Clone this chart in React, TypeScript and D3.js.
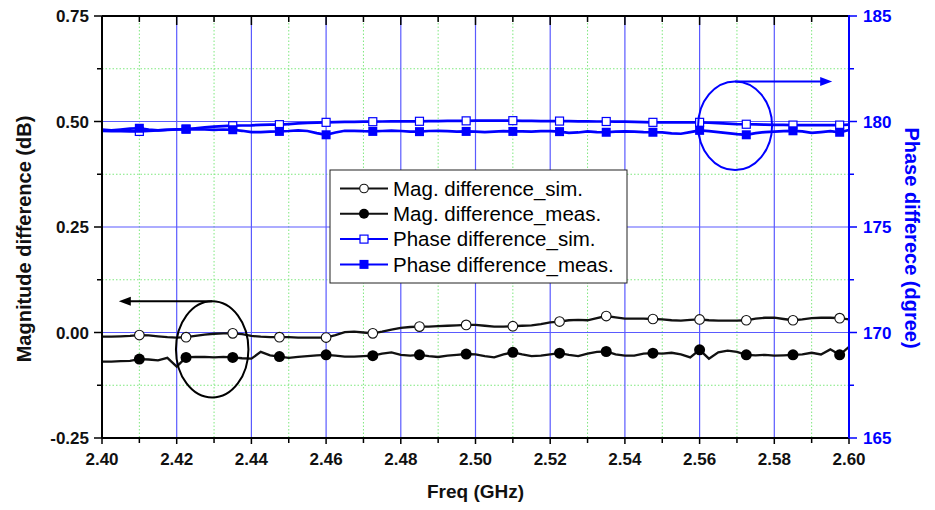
import React from 'react';
import * as d3 from 'd3';

// frequency grid: 2.40 .. 2.60 GHz, 2.5 MHz step
const freqStart = 2.4;
const freqStep = 0.0025;

const magSim = [
  -0.010, -0.010, -0.009, -0.008, -0.006, -0.007, -0.009, -0.011, -0.012, -0.011,
  -0.008, -0.005, -0.003, -0.002, -0.002, -0.004, -0.008, -0.010, -0.011, -0.011,
  -0.011, -0.012, -0.012, -0.012, -0.012, -0.006, 0.001, 0.002, 0.000, -0.002,
  0.002, 0.007, 0.011, 0.013, 0.014, 0.014, 0.015, 0.016, 0.017, 0.018,
  0.018, 0.016, 0.014, 0.014, 0.015, 0.016, 0.017, 0.020, 0.024, 0.026,
  0.029, 0.030, 0.029, 0.034, 0.039, 0.036, 0.033, 0.033, 0.033, 0.032,
  0.031, 0.029, 0.028, 0.030, 0.031, 0.029, 0.028, 0.028, 0.028, 0.029,
  0.033, 0.035, 0.035, 0.032, 0.029, 0.031, 0.034, 0.035, 0.035, 0.034,
  0.031,
];

const magMeas = [
  -0.069, -0.069, -0.068, -0.067, -0.063, -0.064, -0.066, -0.060, -0.081, -0.059,
  -0.058, -0.058, -0.059, -0.058, -0.059, -0.061, -0.062, -0.046, -0.054, -0.057,
  -0.060, -0.058, -0.056, -0.054, -0.053, -0.055, -0.057, -0.057, -0.056, -0.055,
  -0.050, -0.047, -0.053, -0.055, -0.053, -0.056, -0.058, -0.055, -0.053, -0.051,
  -0.052, -0.056, -0.059, -0.052, -0.047, -0.052, -0.056, -0.055, -0.052, -0.049,
  -0.053, -0.056, -0.050, -0.046, -0.045, -0.052, -0.055, -0.055, -0.050, -0.049,
  -0.050, -0.048, -0.052, -0.059, -0.041, -0.062, -0.047, -0.043, -0.046, -0.053,
  -0.054, -0.053, -0.055, -0.054, -0.053, -0.052, -0.048, -0.052, -0.040, -0.053,
  -0.034,
];

const phaseSim = [
  179.55, 179.54, 179.54, 179.53, 179.53, 179.56, 179.58, 179.61, 179.63, 179.64,
  179.68, 179.72, 179.76, 179.78, 179.80, 179.81, 179.82, 179.84, 179.85, 179.85,
  179.88, 179.91, 179.93, 179.95, 179.96, 179.97, 179.98, 179.98, 179.99, 179.99,
  180.00, 180.01, 180.01, 180.01, 180.01, 180.02, 180.02, 180.03, 180.03, 180.03,
  180.04, 180.04, 180.04, 180.04, 180.04, 180.03, 180.03, 180.02, 180.02, 180.02,
  180.02, 180.01, 180.01, 180.00, 180.00, 179.99, 179.99, 179.98, 179.97, 179.96,
  179.96, 179.96, 179.96, 179.96, 179.96, 179.94, 179.92, 179.90, 179.88, 179.87,
  179.86, 179.85, 179.84, 179.84, 179.83, 179.83, 179.83, 179.83, 179.83, 179.83,
  179.85,
];

const phaseMeas = [
  179.62, 179.58, 179.62, 179.66, 179.68, 179.62, 179.58, 179.60, 179.62, 179.64,
  179.63, 179.62, 179.60, 179.62, 179.61, 179.56, 179.50, 179.50, 179.52, 179.53,
  179.55, 179.58, 179.55, 179.45, 179.37, 179.48, 179.56, 179.56, 179.54, 179.53,
  179.55, 179.57, 179.55, 179.52, 179.52, 179.55, 179.56, 179.54, 179.52, 179.53,
  179.52, 179.50, 179.52, 179.54, 179.53, 179.53, 179.52, 179.54, 179.54, 179.52,
  179.46, 179.48, 179.53, 179.50, 179.49, 179.52, 179.53, 179.52, 179.50, 179.49,
  179.48, 179.44, 179.42, 179.50, 179.58, 179.54, 179.50, 179.45, 179.40, 179.37,
  179.45, 179.50, 179.52, 179.54, 179.56, 179.53, 179.46, 179.50, 179.54, 179.49,
  179.60,
];

const xTicks = [2.40, 2.42, 2.44, 2.46, 2.48, 2.50, 2.52, 2.54, 2.56, 2.58, 2.60];
const magTicks = [-0.25, 0, 0.25, 0.5, 0.75];
const phaseTicks = [165, 170, 175, 180, 185];

const legendLabels = [
  'Mag. difference_sim.',
  'Mag. difference_meas.',
  'Phase difference_sim.',
  'Phase difference_meas.',
];

const W = 935;
const H = 510;
const margin = { top: 16, right: 86, bottom: 72, left: 102 };
const BLUE = '#0000ff';
const GRID_BLUE = '#5a5aff';
const GRID_GREEN = '#7ee87e';
const FONT = 'Liberation Sans, Arial, sans-serif';

const App = () => {
  const x = d3.scaleLinear().domain([2.4, 2.6]).range([margin.left, W - margin.right]);
  const yMag = d3.scaleLinear().domain([-0.25, 0.75]).range([H - margin.bottom, margin.top]);
  const yPh = d3.scaleLinear().domain([165, 185]).range([H - margin.bottom, margin.top]);

  const freq = (i: number) => freqStart + freqStep * i;
  const [x0, x1] = x.range();
  const [yb, yt] = yMag.range();

  const magLine = d3.line<number>().x((_, i) => x(freq(i))).y(d => yMag(d));
  const phLine = d3.line<number>().x((_, i) => x(freq(i))).y(d => yPh(d));

  // marker every 12.5 MHz starting at 2.41 GHz
  const markIdx = d3.range(magSim.length).filter(i => i % 5 === 4);

  const minorX = d3.range(2.41, 2.6, 0.02);
  const minorY = [-0.125, 0.125, 0.375, 0.625];
  const majorXInner = xTicks.slice(1, -1);
  const majorYInner = [0, 0.25, 0.5];

  // annotation ellipses (data coords)
  const magEll = { cx: 2.4295, cy: -0.04, rx: 0.0097, ry: 0.114, tip: 2.4045 };
  const phEll = { cx: 2.5695, cy: 179.8, rx: 0.0099, ry: 2.1, tip: 2.5955 };

  const magEllTop = yMag(magEll.cy + magEll.ry);
  const phEllTop = yPh(phEll.cy + phEll.ry);

  const lg = { x: 330, y: 170, w: 297, h: 113, row: 25.3 };

  return (
    <div style={{ position: 'fixed', left: 0, top: 0 }}>
      <svg width={W} height={H} style={{ display: 'block', background: '#fff' }}>
        {/* minor grid */}
        <g stroke={GRID_GREEN} strokeWidth={1} strokeDasharray="1.5,2">
          {minorX.map(v => (
            <line key={'mx' + v} x1={x(v)} x2={x(v)} y1={yt} y2={yb} />
          ))}
          {minorY.map(v => (
            <line key={'my' + v} x1={x0} x2={x1} y1={yMag(v)} y2={yMag(v)} />
          ))}
        </g>
        {/* major grid */}
        <g stroke={GRID_BLUE} strokeWidth={1.2}>
          {majorXInner.map(v => (
            <line key={'gx' + v} x1={x(v)} x2={x(v)} y1={yt} y2={yb} />
          ))}
          {majorYInner.map(v => (
            <line key={'gy' + v} x1={x0} x2={x1} y1={yMag(v)} y2={yMag(v)} />
          ))}
        </g>

        {/* phase curves */}
        <path d={phLine(phaseSim) || ''} fill="none" stroke={BLUE} strokeWidth={2.7} />
        <path d={phLine(phaseMeas) || ''} fill="none" stroke={BLUE} strokeWidth={2.7} />
        {markIdx.map(i => (
          <rect key={'ps' + i} x={x(freq(i)) - 4} y={yPh(phaseSim[i]) - 4} width={8} height={8}
            fill="#fff" stroke={BLUE} strokeWidth={1.2} />
        ))}
        {markIdx.map(i => (
          <rect key={'pm' + i} x={x(freq(i)) - 4.5} y={yPh(phaseMeas[i]) - 4.5} width={9} height={9}
            fill={BLUE} />
        ))}

        {/* magnitude curves */}
        <path d={magLine(magSim) || ''} fill="none" stroke="#111" strokeWidth={2.3} />
        <path d={magLine(magMeas) || ''} fill="none" stroke="#111" strokeWidth={2.3} />
        {markIdx.map(i => (
          <circle key={'ms' + i} cx={x(freq(i))} cy={yMag(magSim[i])} r={4.8}
            fill="#fff" stroke="#111" strokeWidth={1.1} />
        ))}
        {markIdx.map(i => (
          <circle key={'mm' + i} cx={x(freq(i))} cy={yMag(magMeas[i])} r={5.5} fill="#000" />
        ))}

        {/* annotations */}
        <ellipse cx={x(magEll.cx)} cy={yMag(magEll.cy)}
          rx={x(magEll.cx + magEll.rx) - x(magEll.cx)} ry={yMag(magEll.cy) - magEllTop}
          fill="none" stroke="#000" strokeWidth={2} />
        <line x1={x(magEll.cx)} x2={x(magEll.tip) + 10} y1={magEllTop} y2={magEllTop}
          stroke="#000" strokeWidth={2} />
        <path d={`M${x(magEll.tip)},${magEllTop} l12,-4.5 l0,9 z`} fill="#000" />

        <ellipse cx={x(phEll.cx)} cy={yPh(phEll.cy)}
          rx={x(phEll.cx + phEll.rx) - x(phEll.cx)} ry={yPh(phEll.cy) - phEllTop}
          fill="none" stroke={BLUE} strokeWidth={2} />
        <line x1={x(phEll.cx)} x2={x(phEll.tip) - 10} y1={phEllTop} y2={phEllTop}
          stroke={BLUE} strokeWidth={2} />
        <path d={`M${x(phEll.tip)},${phEllTop} l-12,-4.5 l0,9 z`} fill={BLUE} />

        {/* legend */}
        <g>
          <rect x={lg.x} y={lg.y} width={lg.w} height={lg.h} fill="#fff" stroke="#222" strokeWidth={1} />
          {legendLabels.map((t, i) => {
            const cy = lg.y + 18.5 + i * lg.row;
            const col = i < 2 ? '#111' : BLUE;
            return (
              <g key={t}>
                <line x1={lg.x + 10} x2={lg.x + 58} y1={cy} y2={cy} stroke={col} strokeWidth={2} />
                {i === 0 && <circle cx={lg.x + 34} cy={cy} r={4.3} fill="#fff" stroke="#111" strokeWidth={1.1} />}
                {i === 1 && <circle cx={lg.x + 34} cy={cy} r={5} fill="#000" />}
                {i === 2 && <rect x={lg.x + 30} y={cy - 4} width={8} height={8} fill="#fff" stroke={BLUE} strokeWidth={1.2} />}
                {i === 3 && <rect x={lg.x + 29.5} y={cy - 4.5} width={9} height={9} fill={BLUE} />}
                <text x={lg.x + 63} y={cy} dy="0.35em" fontFamily={FONT} fontSize={20.5} fill="#000">{t}</text>
              </g>
            );
          })}
        </g>

        {/* axes frame */}
        <line x1={x0} x2={x1} y1={yt} y2={yt} stroke="#000" strokeWidth={2} />
        <line x1={x0} x2={x1} y1={yb} y2={yb} stroke="#000" strokeWidth={2} />
        <line x1={x0} x2={x0} y1={yt} y2={yb} stroke="#000" strokeWidth={2} />
        <line x1={x1} x2={x1} y1={yt - 1} y2={yb + 1} stroke={BLUE} strokeWidth={2} />

        {/* x ticks: bottom outward, top inward */}
        <g stroke="#000" strokeWidth={1.5}>
          {xTicks.map(v => (
            <line key={'bt' + v} x1={x(v)} x2={x(v)} y1={yb} y2={yb + 6} />
          ))}
          {minorX.map(v => (
            <line key={'bm' + v} x1={x(v)} x2={x(v)} y1={yb} y2={yb + 5} />
          ))}
          {xTicks.slice(1, -1).map(v => (
            <line key={'tt' + v} x1={x(v)} x2={x(v)} y1={yt} y2={yt + 9} />
          ))}
          {minorX.map(v => (
            <line key={'tm' + v} x1={x(v)} x2={x(v)} y1={yt} y2={yt + 6} />
          ))}
          {magTicks.map(v => (
            <line key={'lt' + v} x1={x0 - 8} x2={x0} y1={yMag(v)} y2={yMag(v)} />
          ))}
          {minorY.map(v => (
            <line key={'lm' + v} x1={x0 - 5} x2={x0} y1={yMag(v)} y2={yMag(v)} />
          ))}
        </g>
        <g stroke={BLUE} strokeWidth={1.5}>
          {phaseTicks.map(v => (
            <line key={'rt' + v} x1={x1} x2={x1 + 8} y1={yPh(v)} y2={yPh(v)} />
          ))}
          {[167.5, 172.5, 177.5, 182.5].map(v => (
            <line key={'rm' + v} x1={x1} x2={x1 + 5} y1={yPh(v)} y2={yPh(v)} />
          ))}
        </g>

        {/* tick labels */}
        <g fontFamily={FONT} fontWeight="bold" fontSize={17}>
          {xTicks.map(v => (
            <text key={'xl' + v} x={x(v)} y={yb + 27} textAnchor="middle" fill="#111">{v.toFixed(2)}</text>
          ))}
          {magTicks.map(v => (
            <text key={'yl' + v} x={x0 - 13} y={yMag(v)} dy="0.36em" textAnchor="end" fill="#111">{v.toFixed(2)}</text>
          ))}
          {phaseTicks.map(v => (
            <text key={'pl' + v} x={x1 + 14} y={yPh(v)} dy="0.36em" textAnchor="start" fill={BLUE}>{v}</text>
          ))}
        </g>

        {/* axis titles */}
        <text x={(x0 + x1) / 2} y={H - 12} textAnchor="middle" fontFamily={FONT} fontWeight="bold" fontSize={19} fill="#111">Freq (GHz)</text>
        <text transform={`translate(31,${(yt + yb) / 2 + 12}) rotate(-90)`} textAnchor="middle" fontFamily={FONT} fontWeight="bold" fontSize={20} fill="#111">Magnitude difference (dB)</text>
        <text transform={`translate(905,${(yt + yb) / 2 + 11}) rotate(90)`} textAnchor="middle" fontFamily={FONT} fontWeight="bold" fontSize={20} fill={BLUE}>Phase differece (dgree)</text>
      </svg>
    </div>
  );
};

export default App;
